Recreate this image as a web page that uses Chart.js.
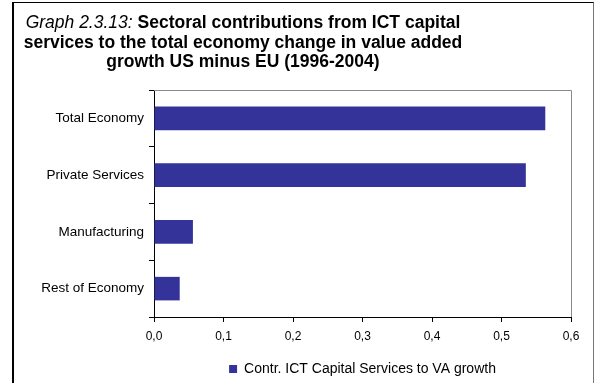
<!DOCTYPE html>
<html>
<head>
<meta charset="utf-8">
<script src="https://cdn.jsdelivr.net/npm/chart.js@4/dist/chart.umd.min.js"></script>
<style>
  html, body { margin: 0; padding: 0; background: #fff; overflow: hidden; }
  #frame {
    position: absolute; left: 12px; top: 2px; width: 579px; height: 400px;
    border-left: 2px solid #000; border-top: 1px solid #000; border-right: 1px solid #777;
  }
  #title {
    position: absolute; left: 0; top: 13px; width: 486px; text-align: center;
    font-family: 'Liberation Sans', Arial, sans-serif; font-size: 17.5px; line-height: 19.5px;
    font-weight: bold; color: #000;
  }
  #title i { font-weight: normal; }
  #chart { position: absolute; left: 0; top: 0; }
</style>
</head>
<body>
<div id="frame"></div>
<canvas id="chart" width="594" height="395"></canvas>
<div id="title"><i>Graph 2.3.13:</i> Sectoral contributions from ICT capital<br>services to the total economy change in value added<br>growth US minus EU (1996-2004)</div>
<script>
const categories = ['Total Economy', 'Private Services', 'Manufacturing', 'Rest of Economy'];
const ictContribution = [0.563, 0.535, 0.056, 0.037];
const xTickLabels = ['0,0', '0,1', '0,2', '0,3', '0,4', '0,5', '0,6'];
const seriesName = 'Contr. ICT Capital Services to VA growth';

// grey frame on top/right of the plot area (left/bottom are the axes)
const plotFrame = {
  id: 'plotFrame',
  beforeDatasetsDraw(chart) {
    const { ctx, chartArea: a } = chart;
    ctx.save();
    ctx.strokeStyle = '#8a8a8a';
    ctx.lineWidth = 1;
    ctx.beginPath();
    ctx.moveTo(a.left, a.top + 0.5);
    ctx.lineTo(a.right + 0.5, a.top + 0.5);
    ctx.lineTo(a.right + 0.5, a.bottom);
    ctx.stroke();
    ctx.restore();
  }
};

const font = 'Liberation Sans, Arial, sans-serif';

new Chart(document.getElementById('chart'), {
  type: 'bar',
  data: {
    labels: categories,
    datasets: [{
      label: seriesName,
      data: ictContribution,
      backgroundColor: '#333399',
      borderWidth: 0,
      barPercentage: 0.415,
      categoryPercentage: 1
    }]
  },
  options: {
    indexAxis: 'y',
    responsive: false,
    animation: false,
    layout: { padding: { top: 90, left: 14, right: 23, bottom: 9 } },
    scales: {
      x: {
        min: 0, max: 0.6,
        ticks: {
          stepSize: 0.1,
          color: '#000',
          padding: 7,
          font: { family: font, size: 12 },
          callback: (v, i) => xTickLabels[i]
        },
        grid: { drawOnChartArea: false, tickLength: 5, color: '#000' },
        border: { color: '#000' },
        afterFit: s => { s.height = 41; }
      },
      y: {
        ticks: { color: '#000', padding: 5, font: { family: font, size: 13.5 } },
        grid: { drawOnChartArea: false, tickLength: 5, color: '#000' },
        border: { color: '#000' },
        afterFit: s => { s.width = 140; }
      }
    },
    plugins: {
      legend: {
        position: 'bottom',
        fullSize: false,
        labels: { boxWidth: 8, boxHeight: 8, padding: 4, color: '#000', font: { family: font, size: 14 } }
      },
      tooltip: { enabled: false }
    }
  },
  plugins: [plotFrame]
});
</script>
</body>
</html>
